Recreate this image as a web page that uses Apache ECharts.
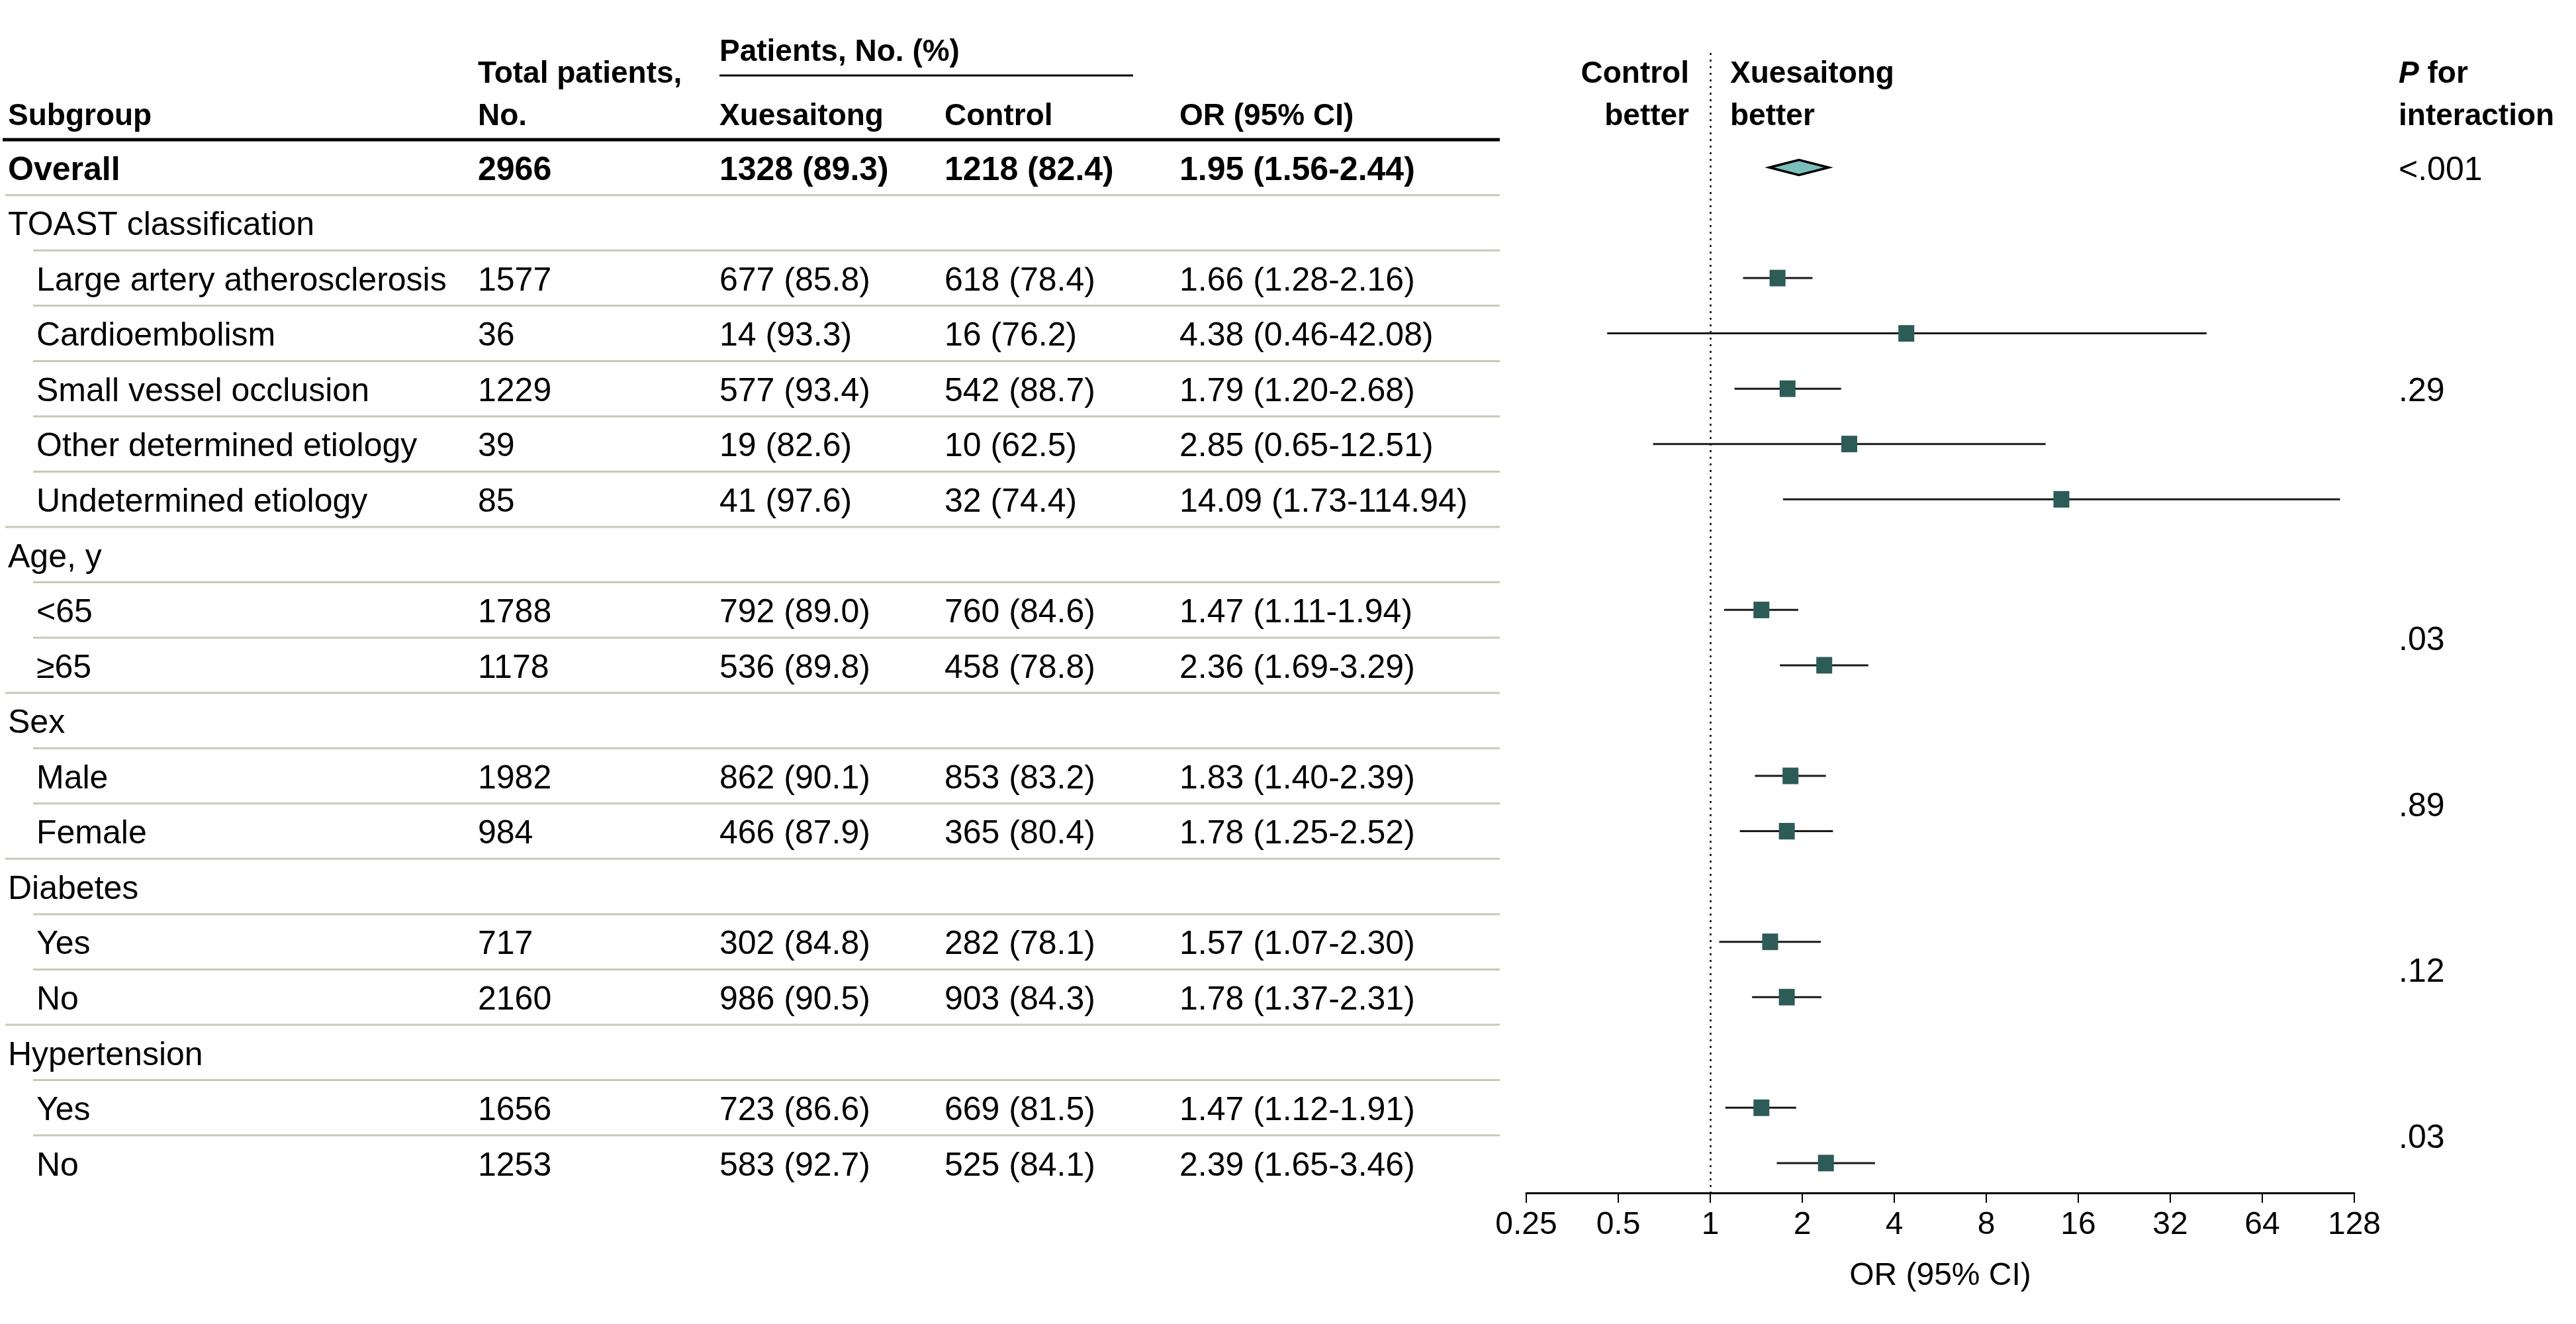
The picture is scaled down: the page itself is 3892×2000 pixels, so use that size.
<!DOCTYPE html>
<html>
<head>
<meta charset="utf-8">
<script src="https://cdn.jsdelivr.net/npm/echarts@6/dist/echarts.min.js"></script>
<style>
html,body{margin:0;padding:0;background:#fff;}
#chart{width:3892px;height:2000px;}
</style>
</head>
<body>
<div id="chart"></div>
<script>
// ---------------- DATA ----------------
const subgroups = ['Overall','TOAST classification','Large artery atherosclerosis','Cardioembolism','Small vessel occlusion','Other determined etiology','Undetermined etiology','Age, y','<65','\u226565','Sex','Male','Female','Diabetes','Yes','No','Hypertension','Yes','No'];
const rowLevel = [0,1,2,2,2,2,2,1,2,2,1,2,2,1,2,2,1,2,2];
const totalPatients = [2966,null,1577,36,1229,39,85,null,1788,1178,null,1982,984,null,717,2160,null,1656,1253];
const xueN   = [1328,null,677,14,577,19,41,null,792,536,null,862,466,null,302,986,null,723,583];
const xuePct = [89.3,null,85.8,93.3,93.4,82.6,97.6,null,89.0,89.8,null,90.1,87.9,null,84.8,90.5,null,86.6,92.7];
const ctrlN  = [1218,null,618,16,542,10,32,null,760,458,null,853,365,null,282,903,null,669,525];
const ctrlPct= [82.4,null,78.4,76.2,88.7,62.5,74.4,null,84.6,78.8,null,83.2,80.4,null,78.1,84.3,null,81.5,84.1];
const orValue= [1.95,null,1.66,4.38,1.79,2.85,14.09,null,1.47,2.36,null,1.83,1.78,null,1.57,1.78,null,1.47,2.39];
const ciLow  = [1.56,null,1.28,0.46,1.20,0.65,1.73,null,1.11,1.69,null,1.40,1.25,null,1.07,1.37,null,1.12,1.65];
const ciHigh = [2.44,null,2.16,42.08,2.68,12.51,114.94,null,1.94,3.29,null,2.39,2.52,null,2.30,2.31,null,1.91,3.46];
const pRows  = [0,4,8.5,11.5,14.5,17.5];
const pLabels= ['<.001','.29','.03','.89','.12','.03'];
const xTickMin = 0.25, xTickMax = 128;

// ---------------- STYLE / LAYOUT ----------------
const FONT = '"Liberation Sans", Arial, sans-serif';
const BODY = 50, HEAD = 46;
const TY = 5; // vertical text nudge
const COL = {sub:12, subIndent:55, total:722, xue:1087, ctrl:1427, or:1782, p:3624};
const LINE_X1 = 8, LINE_X1_IND = 50, LINE_X2 = 2266;
const SEP_COLOR = '#c5cab8';
const SQUARE_COLOR = '#2c5b58';
const DIAMOND_FILL = '#7bbfbd';

const fmtOR = i => orValue[i].toFixed(2) + ' (' + ciLow[i].toFixed(2) + '-' + ciHigh[i].toFixed(2) + ')';
const fmtNP = (n, p) => n + ' (' + p.toFixed(1) + ')';

function txt(text, x, y, opt) {
  opt = opt || {};
  const align = opt.align || 'left';
  return {
    type: 'text',
    style: {
      text: text, x: x, y: y + TY,
      fill: '#000',
      fontSize: opt.size || BODY,
      fontFamily: FONT,
      fontWeight: opt.weight || 'normal',
      fontStyle: opt.style || 'normal',
      align: align, textAlign: align,
      verticalAlign: 'middle', textVerticalAlign: 'middle',
      rich: opt.rich
    }
  };
}

const rowIdx = subgroups.map((s, i) => [1, i]);
const ciData = [], sqData = [], diaData = [];
subgroups.forEach((s, i) => {
  if (orValue[i] == null) return;
  if (rowLevel[i] === 0) diaData.push([orValue[i], i, ciLow[i], ciHigh[i]]);
  else { ciData.push([ciLow[i], i, ciHigh[i]]); sqData.push([orValue[i], i]); }
});
const pData = pRows.map((r, k) => [1, r, k]);

const chart = echarts.init(document.getElementById('chart'), null, {renderer: 'canvas'});

const option = {
  animation: false,
  backgroundColor: '#fff',
  grid: {left: 2306, right: 335, top: 80, bottom: 198, containLabel: false},
  xAxis: {
    type: 'log', logBase: 2, min: xTickMin, max: xTickMax,
    axisLine: {show: true, onZero: false, lineStyle: {color: '#000', width: 3}},
    axisTick: {show: true, inside: false, length: 15, lineStyle: {color: '#000', width: 2}},
    axisLabel: {show: true, color: '#000', fontSize: 48, fontFamily: FONT, margin: 25,
      showMinLabel: true, showMaxLabel: true,
      formatter: v => String(parseFloat(Number(v).toPrecision(6)))},
    splitLine: {show: false},
    name: 'OR (95% CI)', nameLocation: 'middle', nameGap: 102,
    nameTextStyle: {color: '#000', fontSize: 48, fontFamily: FONT}
  },
  yAxis: {
    type: 'value', inverse: true, min: -2.07, max: 18.54,
    show: false, splitLine: {show: false}
  },
  graphic: [
    // header texts
    txt('Subgroup', COL.sub, 171, {size: HEAD, weight: 'bold'}),
    txt('Total patients,', COL.total, 107, {size: HEAD, weight: 'bold'}),
    txt('No.', COL.total, 171, {size: HEAD, weight: 'bold'}),
    txt('Patients, No. (%)', COL.xue, 74, {size: HEAD, weight: 'bold'}),
    txt('Xuesaitong', COL.xue, 171, {size: HEAD, weight: 'bold'}),
    txt('Control', COL.ctrl, 171, {size: HEAD, weight: 'bold'}),
    txt('OR (95% CI)', COL.or, 171, {size: HEAD, weight: 'bold'}),
    txt('Control', 2552, 107, {size: HEAD, weight: 'bold', align: 'right'}),
    txt('better', 2552, 171, {size: HEAD, weight: 'bold', align: 'right'}),
    txt('Xuesaitong', 2614, 107, {size: HEAD, weight: 'bold'}),
    txt('better', 2614, 171, {size: HEAD, weight: 'bold'}),
    txt('{i|P} for', COL.p, 107, {size: HEAD, weight: 'bold',
      rich: {i: {fontStyle: 'italic', fontWeight: 'bold', fontSize: HEAD, fontFamily: FONT, fill: '#000', color: '#000'}}}),
    txt('interaction', COL.p, 171, {size: HEAD, weight: 'bold'}),
    {type: 'line', shape: {x1: COL.xue, y1: 114, x2: 1712, y2: 114}, style: {stroke: '#000', lineWidth: 3}},
    {type: 'line', shape: {x1: 4, y1: 211, x2: LINE_X2, y2: 211}, style: {stroke: '#000', lineWidth: 5}}
  ],
  series: [
    { // table rows
      type: 'custom', coordinateSystem: 'cartesian2d', clip: false, silent: true, z: 1,
      data: rowIdx,
      renderItem: (params, api) => {
        const i = api.value(1);
        const y = api.coord([1, i])[1];
        const lvl = rowLevel[i];
        const w = lvl === 0 ? 'bold' : 'normal';
        const children = [];
        children.push(txt(subgroups[i], lvl === 2 ? COL.subIndent : COL.sub, y, {weight: w}));
        if (totalPatients[i] != null) {
          children.push(txt(String(totalPatients[i]), COL.total, y, {weight: w}));
          children.push(txt(fmtNP(xueN[i], xuePct[i]), COL.xue, y, {weight: w}));
          children.push(txt(fmtNP(ctrlN[i], ctrlPct[i]), COL.ctrl, y, {weight: w}));
          children.push(txt(fmtOR(i), COL.or, y, {weight: w}));
        }
        if (i < subgroups.length - 1) {
          const yl = api.coord([1, i + 0.5])[1];
          const x1 = rowLevel[i + 1] === 2 ? LINE_X1_IND : LINE_X1;
          children.push({type: 'line', shape: {x1: x1, y1: yl, x2: LINE_X2, y2: yl},
            style: {stroke: SEP_COLOR, lineWidth: 3}});
        }
        return {type: 'group', children: children};
      }
    },
    { // P for interaction
      type: 'custom', coordinateSystem: 'cartesian2d', clip: false, silent: true, z: 1,
      data: pData,
      renderItem: (params, api) => {
        const y = api.coord([1, api.value(1)])[1];
        return txt(pLabels[api.value(2)], COL.p, y);
      }
    },
    { // CI lines
      type: 'custom', coordinateSystem: 'cartesian2d', clip: false, silent: true, z: 3,
      data: ciData,
      renderItem: (params, api) => {
        const p1 = api.coord([api.value(0), api.value(1)]);
        const p2 = api.coord([api.value(2), api.value(1)]);
        return {type: 'line', shape: {x1: p1[0], y1: p1[1], x2: p2[0], y2: p2[1]},
          style: {stroke: '#1a1a1a', lineWidth: 3}};
      }
    },
    { // overall diamond
      type: 'custom', coordinateSystem: 'cartesian2d', clip: false, silent: true, z: 4,
      data: diaData,
      renderItem: (params, api) => {
        const c = api.coord([api.value(0), api.value(1)]);
        const l = api.coord([api.value(2), api.value(1)]);
        const r = api.coord([api.value(3), api.value(1)]);
        const h = 11.5;
        return {type: 'polygon', shape: {points: [[l[0], c[1]], [c[0], c[1] - h], [r[0], c[1]], [c[0], c[1] + h]]},
          style: {fill: DIAMOND_FILL, stroke: '#000', lineWidth: 3.5, lineJoin: 'miter'}};
      }
    },
    { // point estimates
      type: 'scatter', z: 5, silent: true,
      symbol: 'rect', symbolSize: [24, 25],
      itemStyle: {color: SQUARE_COLOR, opacity: 1},
      data: sqData,
      markLine: {
        silent: true, symbol: 'none', z: 2,
        label: {show: false},
        lineStyle: {color: '#000', width: 2.5, type: [3, 7]},
        emphasis: {disabled: true},
        data: [{xAxis: 1}]
      }
    }
  ]
};
chart.setOption(option);
</script>
</body>
</html>
